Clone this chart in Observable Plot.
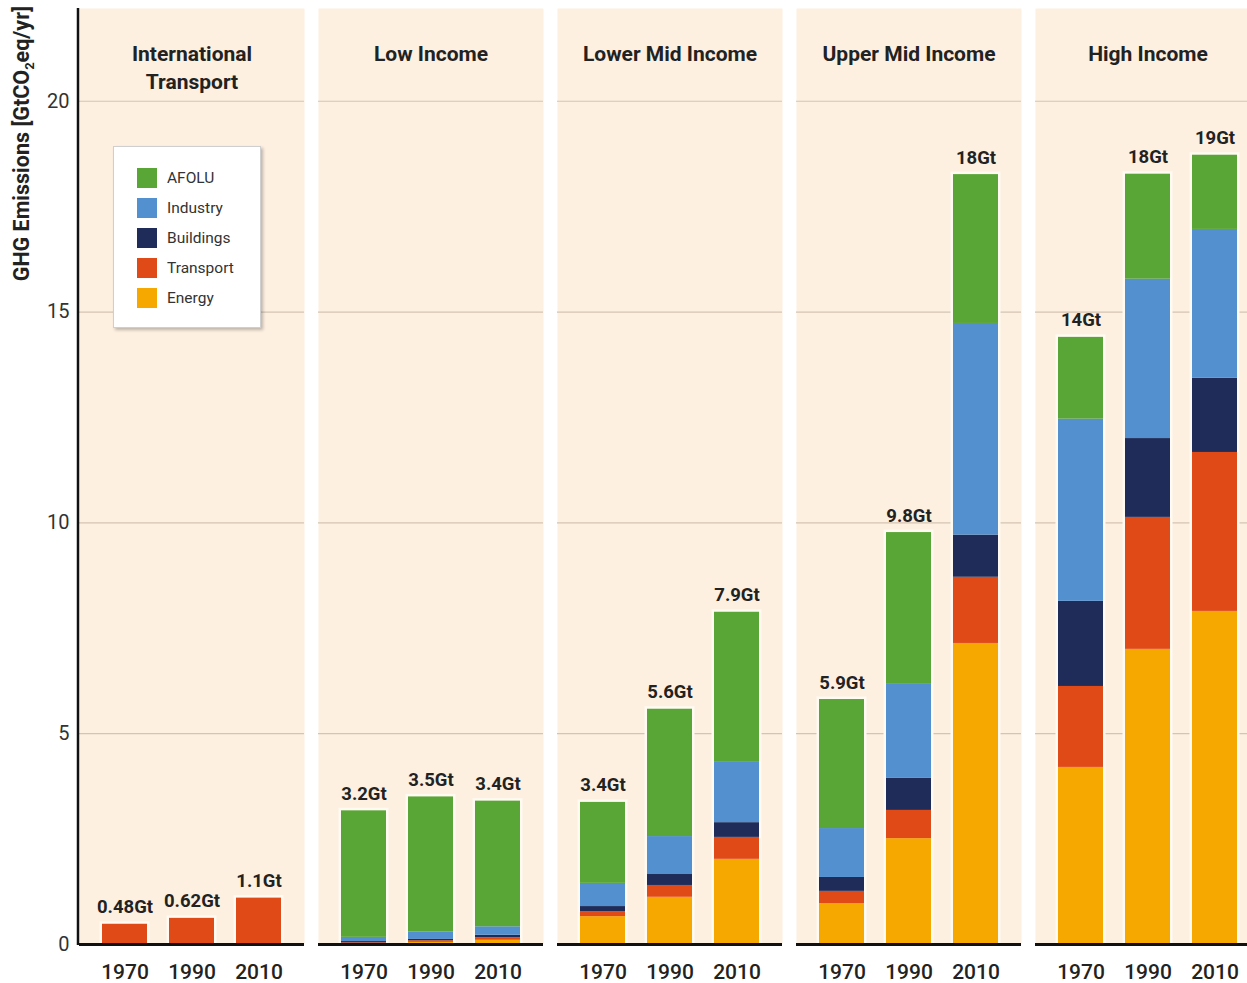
<!DOCTYPE html>
<html><head><meta charset="utf-8">
<script src="https://cdn.jsdelivr.net/npm/d3@7"></script>
<script src="https://cdn.jsdelivr.net/npm/@observablehq/plot@0.6"></script>
<style>
body{margin:0;background:#fff;}
#wrap{position:relative;width:1247px;height:983px;overflow:hidden;font-family:Roboto,"Noto Sans",sans-serif;}
#legend{position:absolute;left:113px;top:146px;width:146px;height:180px;background:#fff;border:1px solid #cfcfcf;box-shadow:2px 2px 3px rgba(0,0,0,0.25);}
.item{position:absolute;left:23px;height:20px;display:flex;align-items:center;font-size:15.5px;color:#333;white-space:nowrap}
.sw{width:20px;height:20px;margin-right:10px;flex:none}
</style></head>
<body><div id="wrap"></div>
<script>
const regions = ["International Transport","Low Income","Lower Mid Income","Upper Mid Income","High Income"];
const regionTitles = ["International\nTransport","Low Income","Lower Mid Income","Upper Mid Income","High Income"];
const years = ["1970","1990","2010"];
const sectors = ["Energy","Transport","Buildings","Industry","AFOLU"];
const sectorColors = ["#f7a800","#e04a17","#1f2c5a","#5290d0","#59a535"];
// values in region-major order: [region][year]
const energy    = [0,0,0,   0.02,0.05,0.10,  0.66,1.12,2.02,  0.97,2.51,7.14,  4.20,7.00,7.90];
const transport = [0.48,0.62,1.10, 0.02,0.04,0.06, 0.12,0.28,0.52, 0.29,0.67,1.57, 1.92,3.13,3.77];
const buildings = [0,0,0,   0.03,0.03,0.06,  0.12,0.26,0.35,  0.33,0.76,1.00,  2.02,1.87,1.76];
const industry  = [0,0,0,   0.10,0.18,0.20,  0.55,0.90,1.43,  1.16,2.23,5.02,  4.32,3.78,3.53];
const afolu     = [0,0,0,   3.00,3.20,2.98,  1.92,3.02,3.56,  3.06,3.60,3.53,  1.94,2.49,1.76];
const totalLabels = ["0.48Gt","0.62Gt","1.1Gt", "3.2Gt","3.5Gt","3.4Gt", "3.4Gt","5.6Gt","7.9Gt", "5.9Gt","9.8Gt","18Gt", "14Gt","18Gt","19Gt"];
const yTicks = [0,5,10,15,20];

const series = [energy, transport, buildings, industry, afolu];
const rows = [];
const totals = [];
regions.forEach((r, ri) => {
  years.forEach((yr, yi) => {
    const i = ri * 3 + yi;
    let t = 0;
    sectors.forEach((s, si) => { rows.push({region: r, year: yr, sector: s, value: series[si][i]}); t += series[si][i]; });
    totals.push({region: r, year: yr, total: t, label: totalLabels[i]});
  });
});

const FONT = 'Roboto,"Noto Sans",sans-serif';
const chart = Plot.plot({
  width: 1247, height: 983,
  marginLeft: 78, marginRight: 0, marginTop: 8, marginBottom: 39,
  style: {fontFamily: FONT, background: "transparent", overflow: "visible"},
  fx: {domain: regions, range: [78, 1261], paddingInner: 0.0588, paddingOuter: 0, axis: null},
  x: {domain: years, padding: 0.33, axis: null},
  y: {domain: [0, 22.2], axis: null},
  color: {domain: sectors, range: sectorColors},
  marks: [
    Plot.frame({fill: "#fdf0e1", stroke: null}),
    Plot.gridY(yTicks.slice(1), {stroke: "#d3c4b3", strokeOpacity: 1, strokeWidth: 1.2}),
    Plot.barY(totals, {fx: "region", x: "year", y: "total", fill: "#fffaf2", insetLeft: -2.5, insetRight: -2.5, insetTop: -2.5}),
    Plot.barY(rows, Plot.stackY({fx: "region", x: "year", y: "value", fill: "sector", order: sectors})),
    Plot.ruleY([0], {stroke: "#111", strokeWidth: 3}),
    Plot.text(totals, {fx: "region", x: "year", y: "total", text: "label", dy: -11, lineAnchor: "bottom", fontSize: 18.5, fontWeight: "bold", fill: "#222"}),
    Plot.text(regions, {fx: d => d, text: regionTitles, frameAnchor: "top", dy: 33, lineAnchor: "top", fontSize: 21, fontWeight: "bold", fill: "#222", lineHeight: 1.33}),
    Plot.axisX({tickSize: 0, tickPadding: 20, fontSize: 21, fontWeight: 500, fill: "#222", label: null}),
    Plot.axisY({ticks: yTicks, tickSize: 0, tickPadding: 10, fontSize: 20, fill: "#333", label: null})
  ]
});

const wrap = document.getElementById("wrap");
wrap.appendChild(chart);
const svg = d3.select(chart);
svg.append("line").attr("x1", 78).attr("x2", 78).attr("y1", 8).attr("y2", 945)
  .attr("stroke", "#111").attr("stroke-width", 2.5);
const lab = svg.append("text")
  .attr("transform", "translate(29,6) rotate(-90)")
  .attr("text-anchor", "end")
  .attr("font-size", 21.5).attr("font-weight", "bold").attr("fill", "#222")
  .attr("font-family", FONT);
lab.append("tspan").text("GHG Emissions [GtCO");
lab.append("tspan").attr("font-size", 13).attr("dy", 5).text("2");
lab.append("tspan").attr("dy", -5).text("eq/yr]");

const legend = document.createElement("div");
legend.id = "legend";
[...sectors].reverse().forEach((s, k) => {
  const it = document.createElement("div");
  it.className = "item";
  it.style.top = (21 + k * 30) + "px";
  const sw = document.createElement("div");
  sw.className = "sw";
  sw.style.background = sectorColors[sectors.indexOf(s)];
  it.appendChild(sw);
  it.appendChild(document.createTextNode(s));
  legend.appendChild(it);
});
wrap.appendChild(legend);
</script>
</body></html>
